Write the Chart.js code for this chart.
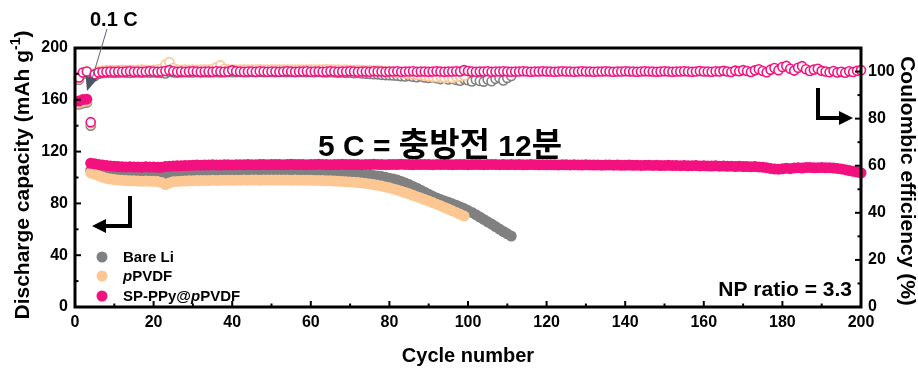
<!DOCTYPE html>
<html>
<head>
<meta charset="utf-8">
<script src="https://cdn.jsdelivr.net/npm/chart.js@4.4.1/dist/chart.umd.min.js"></script>
<style>
  html, body { margin: 0; padding: 0; background: #fff; }
  #wrap { width: 918px; height: 369px; }
</style>
</head>
<body>
<div id="wrap"><canvas id="cycleChart" width="918" height="369"></canvas></div>
<script>
// axis ticks
const xTicks = [0, 20, 40, 60, 80, 100, 120, 140, 160, 180, 200];
const capTicks = [0, 40, 80, 120, 160, 200];
const ceTicks = [0, 20, 40, 60, 80, 100];

// discharge capacity (mAh g-1), one value per cycle starting at cycle 1
const capSP = [
  159.0,160.2,160.5,111.0,110.6,110.1,109.6,109.2,108.9,108.6,
  108.4,108.3,108.2,108.3,108.1,108.2,108.0,108.3,108.1,108.2,
  108.0,107.9,108.4,108.7,108.8,109.0,109.1,109.2,109.3,109.4,
  109.6,109.5,109.7,109.6,109.8,109.7,109.6,109.8,109.9,109.7,
  109.8,109.9,109.8,110.0,109.9,109.8,110.0,110.1,109.9,110.0,
  110.1,110.0,109.9,110.1,110.2,110.0,110.1,110.0,109.9,110.1,
  110.0,110.2,110.1,110.0,109.9,110.1,110.0,110.2,110.1,110.0,
  110.1,110.0,109.9,110.1,110.0,110.2,110.1,110.0,109.9,110.0,
  110.1,110.0,110.2,110.1,110.0,109.9,110.1,110.0,110.1,110.0,
  109.9,110.1,110.0,110.1,110.0,109.9,110.0,110.1,110.0,109.9,
  110.0,110.1,110.0,109.9,110.0,110.1,110.0,109.9,110.0,109.9,
  110.0,109.9,110.0,109.8,109.9,110.0,109.9,109.8,109.9,109.8,
  109.9,109.8,109.7,109.9,109.8,109.7,109.8,109.7,109.6,109.8,
  109.7,109.6,109.7,109.5,109.6,109.7,109.5,109.6,109.4,109.5,
  109.6,109.4,109.5,109.3,109.4,109.5,109.3,109.4,109.2,109.3,
  109.4,109.2,109.3,109.1,109.2,109.0,109.1,109.2,108.9,109.0,
  108.9,108.8,109.0,108.7,108.8,108.6,108.7,108.5,108.6,108.4,
  108.5,108.3,108.4,108.2,108.0,107.6,107.0,106.6,106.4,106.7,
  107.2,106.8,107.4,107.6,107.3,107.7,107.8,107.5,107.6,107.7,
  107.5,107.6,107.3,107.0,106.6,106.0,105.4,104.8,104.2,103.6
];
const capBare = [
  156.5,157.5,158.0,105.5,105.0,104.4,103.8,103.3,103.0,102.8,
  102.6,102.5,102.4,102.3,102.2,102.1,102.0,102.2,102.1,102.0,
  101.8,101.6,101.0,101.9,102.2,102.3,102.4,102.4,102.5,102.5,
  102.6,102.5,102.7,102.6,102.6,102.7,102.6,102.7,102.8,102.7,
  102.7,102.8,102.7,102.8,102.9,102.8,102.8,102.9,102.8,102.9,
  102.9,103.0,102.9,102.9,103.0,102.9,103.0,102.9,102.9,103.0,
  102.9,103.0,102.9,102.8,102.9,102.8,102.8,102.7,102.7,102.6,
  102.5,102.4,102.3,102.1,101.9,101.6,101.2,100.7,100.1,99.4,
  98.8,98.0,97.0,95.8,94.5,93.1,91.7,90.2,88.6,87.0,
  85.5,84.2,83.0,81.9,80.8,79.7,78.5,77.3,76.0,74.5,
  73.0,71.3,69.5,67.6,65.8,64.0,62.1,60.2,58.3,56.5,54.8
];
const capPVDF = [
  157.5,158.5,159.0,103.5,102.6,101.4,100.3,99.4,98.8,98.4,
  98.0,97.8,97.6,97.5,97.4,97.3,97.2,97.3,97.2,97.1,
  96.9,96.2,94.6,95.8,96.8,97.0,97.2,97.3,97.4,97.5,
  97.6,97.6,97.7,97.6,97.8,97.7,97.8,97.8,97.9,97.8,
  97.9,97.9,98.0,97.9,98.0,98.0,97.9,98.0,98.1,98.0,
  98.0,98.1,98.0,98.0,97.9,98.0,97.9,97.9,97.8,97.8,
  97.7,97.7,97.6,97.5,97.4,97.3,97.2,97.0,96.8,96.6,
  96.4,96.1,95.8,95.4,95.0,94.5,94.0,93.4,92.7,92.0,
  91.2,90.3,89.4,88.4,87.4,86.3,85.2,84.1,83.0,81.8,
  80.6,79.4,78.2,76.9,75.6,74.3,73.0,71.6,70.2
];

// coulombic efficiency (%)
const ceSP = [
  97.5,99.6,100.0,78.5,98.8,99.6,99.8,99.9,100.0,99.9,
  100.0,99.9,100.0,100.1,99.9,100.0,99.9,100.0,100.1,100.0,
  99.9,100.0,100.2,100.6,100.1,99.9,100.0,99.9,100.0,100.1,
  100.0,99.9,100.0,100.0,99.9,100.1,100.0,99.9,100.0,100.5,
  100.1,100.0,99.9,100.0,100.0,99.9,100.1,100.0,99.9,100.0,
  100.0,99.9,100.0,100.1,100.0,99.9,100.0,100.0,100.1,99.9,
  100.0,100.0,99.9,100.0,100.1,100.0,99.9,100.0,100.0,100.1,
  100.0,99.9,100.0,100.0,99.9,100.1,100.0,100.0,99.9,100.0,
  100.0,100.1,99.9,100.0,100.0,100.1,99.9,100.0,100.0,99.9,
  100.0,100.1,100.0,99.9,100.0,100.0,100.1,100.0,100.6,100.2,
  100.0,99.9,100.0,100.0,100.1,99.9,100.0,100.0,100.1,100.0,
  99.9,100.0,100.0,100.1,100.0,99.9,100.0,100.0,100.1,100.0,
  100.0,99.9,100.0,100.1,100.0,100.0,99.9,100.0,100.1,100.0,
  100.0,99.9,100.0,100.0,100.1,100.0,99.9,100.0,100.0,100.1,
  100.0,100.0,99.9,100.0,100.1,100.0,100.0,99.9,100.0,100.1,
  100.0,99.9,100.0,100.0,100.1,100.0,99.9,100.0,100.2,100.0,
  100.0,99.9,100.1,100.0,100.3,100.0,99.8,100.4,100.1,100.6,
  100.2,99.8,100.5,101.0,100.2,99.7,100.8,101.5,100.6,101.9,
  102.4,101.2,100.4,101.6,102.3,101.0,100.2,100.8,101.2,100.3,
  100.0,99.7,100.2,99.6,99.9,99.5,100.1,99.8,100.3,100.6
];
const ceBare = [
  96.5,99.0,99.4,77.0,98.0,99.0,99.3,99.4,99.5,99.4,
  99.5,99.6,99.5,99.4,99.5,99.6,99.5,99.6,99.5,99.6,
  99.5,99.4,99.2,99.8,99.6,99.5,99.6,99.7,99.6,99.6,
  99.7,99.6,99.7,99.6,99.7,99.7,99.6,99.7,99.8,99.7,
  99.7,99.8,99.7,99.7,99.8,99.7,99.8,99.7,99.8,99.8,
  99.7,99.8,99.8,99.7,99.8,99.7,99.8,99.8,99.7,99.8,
  99.7,99.8,99.7,99.6,99.7,99.6,99.5,99.6,99.4,99.5,
  99.3,99.4,99.2,99.1,99.0,98.9,98.8,98.6,98.5,98.4,
  98.3,98.2,98.0,97.9,98.1,97.8,97.6,97.9,97.5,97.3,
  97.6,97.2,96.8,97.4,96.6,97.0,96.4,96.1,96.8,96.3,
  95.8,96.5,96.0,95.7,96.6,95.9,96.9,97.4,96.2,97.3,98.1
];
const cePVDF = [
  97.0,99.5,100.1,78.0,99.2,100.2,100.4,100.5,100.6,100.5,
  100.6,100.7,100.6,100.7,100.6,100.7,100.8,100.7,100.6,100.7,
  100.8,101.2,103.0,104.0,101.5,100.8,100.7,100.8,100.7,100.8,
  100.7,100.8,100.9,100.8,101.0,101.8,102.6,101.2,100.8,100.9,
  100.8,100.9,100.8,100.9,100.8,100.9,101.0,100.9,100.8,100.9,
  100.9,100.8,100.9,100.8,100.9,100.8,100.9,100.8,100.9,100.8,
  100.9,100.8,100.9,101.0,100.8,100.9,100.8,100.7,100.8,100.7,
  100.6,100.7,100.6,100.5,100.6,100.4,100.5,100.3,100.2,100.0,
  99.8,99.6,99.4,99.2,99.0,98.8,98.6,98.4,98.2,98.0,
  97.8,97.6,97.9,97.4,97.7,97.3,97.8,98.0,98.3
];

const PINK = '#F2117F';
const GRAY = '#808080';
const PEACH = '#FDC793';
const FONT = "'Liberation Sans', Arial, sans-serif";

function pts(arr) {
  return arr.map((v, i) => ({ x: i + 1, y: v }));
}
function capSet(arr, color) {
  return { data: pts(arr), yAxisID: 'y', pointRadius: 5.5, pointBorderWidth: 0,
    pointBackgroundColor: color, pointBorderColor: color, clip: false };
}
function ceSet(arr, color) {
  return { data: pts(arr), yAxisID: 'y2', pointRadius: 4.5, pointBorderWidth: 1.6,
    pointBackgroundColor: '#fff', pointBorderColor: color, clip: false };
}

function arrowHead(ctx, tipX, tipY, dx, dy, len, half) {
  // dx,dy: unit direction of the arrow
  const bx = tipX - dx * len, by = tipY - dy * len;
  ctx.beginPath();
  ctx.moveTo(tipX, tipY);
  ctx.lineTo(bx - dy * half, by + dx * half);
  ctx.lineTo(bx + dy * half, by - dx * half);
  ctx.closePath();
  ctx.fill();
}

const decorPlugin = {
  id: 'decor',
  afterDraw(chart) {
    const ctx = chart.ctx, a = chart.chartArea;
    const sx = chart.scales.x, sy = chart.scales.y, sy2 = chart.scales.y2;
    ctx.save();

    // frame
    ctx.strokeStyle = '#000';
    ctx.lineWidth = 3;
    ctx.strokeRect(a.left, a.top, a.right - a.left, a.bottom - a.top);

    // inward tick marks, major and minor
    ctx.lineWidth = 2;
    const line = (x1, y1, x2, y2) => { ctx.beginPath(); ctx.moveTo(x1, y1); ctx.lineTo(x2, y2); ctx.stroke(); };
    const withMinor = t => {
      const out = [];
      t.forEach((v, i) => {
        out.push([v, 6]);
        if (i < t.length - 1) out.push([(v + t[i + 1]) / 2, 3.5]);
      });
      return out;
    };
    withMinor(xTicks).forEach(([v, l]) => { const p = sx.getPixelForValue(v); line(p, a.bottom, p, a.bottom - l); });
    withMinor(capTicks).forEach(([v, l]) => { const p = sy.getPixelForValue(v); line(a.left, p, a.left + l, p); });
    withMinor(ceTicks).forEach(([v, l]) => { const p = sy2.getPixelForValue(v); line(a.right, p, a.right - l, p); });

    // axis titles
    ctx.fillStyle = '#000';
    ctx.textBaseline = 'middle';
    ctx.textAlign = 'center';
    ctx.font = `bold 20px ${FONT}`;
    ctx.fillText('Cycle number', 468, 356);

    // left title with superscript
    ctx.save();
    ctx.translate(23, 175);
    ctx.rotate(-Math.PI / 2);
    const main = 'Discharge capacity (mAh g';
    ctx.font = `bold 21px ${FONT}`;
    const w1 = ctx.measureText(main).width;
    ctx.font = `bold 14px ${FONT}`;
    const w2 = ctx.measureText('-1').width;
    ctx.font = `bold 21px ${FONT}`;
    const w3 = ctx.measureText(')').width;
    let x0 = -(w1 + w2 + w3) / 2;
    ctx.textAlign = 'left';
    ctx.fillText(main, x0, 0);
    ctx.font = `bold 14px ${FONT}`;
    ctx.fillText('-1', x0 + w1, -7);
    ctx.font = `bold 21px ${FONT}`;
    ctx.fillText(')', x0 + w1 + w2, 0);
    ctx.restore();

    ctx.save();
    ctx.translate(907, 181);
    ctx.rotate(Math.PI / 2);
    ctx.textAlign = 'center';
    ctx.font = `bold 21px ${FONT}`;
    ctx.fillText('Coulombic efficiency (%)', 0, 0);
    ctx.restore();

    // legend
    const legend = [
      [GRAY, [['Bare Li', false]]],
      [PEACH, [['p', true], ['PVDF', false]]],
      [PINK, [['SP-PPy@', false], ['p', true], ['PVDF', false]]]
    ];
    const legY = [257, 276, 296];
    ctx.textAlign = 'left';
    legend.forEach(([c, parts], i) => {
      ctx.fillStyle = c;
      ctx.beginPath();
      ctx.arc(102, legY[i], 5.5, 0, Math.PI * 2);
      ctx.fill();
      ctx.fillStyle = '#000';
      let x = 123;
      parts.forEach(([t, it]) => {
        ctx.font = `${it ? 'italic ' : ''}bold 15px ${FONT}`;
        ctx.fillText(t, x, legY[i] + 1);
        x += ctx.measureText(t).width;
      });
    });

    // annotations
    ctx.textBaseline = 'alphabetic';
    ctx.font = `bold 20px ${FONT}`;
    ctx.fillText('0.1 C', 90, 26);
    ctx.font = `bold 21px ${FONT}`;
    ctx.textAlign = 'right';
    ctx.fillText('NP ratio = 3.3', 852, 296);

    ctx.textAlign = 'left';
    const segs = [
      ['5 C = ', `bold 30px ${FONT}`],
      ['충방전', "bold 33px 'Noto Sans CJK KR'"],
      [' 12', `bold 30px ${FONT}`],
      ['분', "bold 33px 'Noto Sans CJK KR'"]
    ];
    let tx = 318;
    segs.forEach(([t, f]) => {
      ctx.font = f;
      ctx.fillText(t, tx, 156);
      tx += ctx.measureText(t).width;
    });

    // thin arrow for 0.1 C
    ctx.strokeStyle = '#5B6573';
    ctx.fillStyle = '#4A5566';
    ctx.lineWidth = 1;
    line(107, 29, 92, 79);
    let dx = 87 - 107, dy = 91 - 29, d = Math.hypot(dx, dy);
    arrowHead(ctx, 87, 91, dx / d, dy / d, 14, 6);

    // bold axis arrows
    ctx.strokeStyle = '#000';
    ctx.fillStyle = '#000';
    ctx.lineWidth = 4;
    ctx.beginPath();
    ctx.moveTo(130, 196); ctx.lineTo(130, 226); ctx.lineTo(104, 226);
    ctx.stroke();
    arrowHead(ctx, 92, 226, -1, 0, 14, 7);
    ctx.beginPath();
    ctx.moveTo(818, 88); ctx.lineTo(818, 118); ctx.lineTo(841, 118);
    ctx.stroke();
    arrowHead(ctx, 853, 118, 1, 0, 14, 7);

    ctx.restore();
  }
};

const tickFont = { family: FONT, size: 16, weight: 'bold' };

new Chart(document.getElementById('cycleChart').getContext('2d'), {
  type: 'scatter',
  data: {
    datasets: [
      ceSet(ceSP, PINK),
      capSet(capSP, PINK),
      ceSet(cePVDF, PEACH),
      capSet(capPVDF, PEACH),
      ceSet(ceBare, GRAY),
      capSet(capBare, GRAY)
    ]
  },
  options: {
    responsive: false,
    animation: false,
    layout: { padding: { top: 48, left: 0, right: 0, bottom: 0 } },
    plugins: { legend: { display: false }, tooltip: { enabled: false } },
    scales: {
      x: {
        type: 'linear', min: 0, max: 200,
        afterBuildTicks: s => { s.ticks = xTicks.map(v => ({ value: v })); },
        afterFit: s => { s.height = 62; },
        grid: { display: false, drawTicks: false },
        border: { display: false },
        ticks: { font: tickFont, color: '#000', padding: 6, maxRotation: 0, autoSkip: false }
      },
      y: {
        position: 'left', min: 0, max: 200,
        afterBuildTicks: s => { s.ticks = capTicks.map(v => ({ value: v })); },
        afterFit: s => { s.width = 75; },
        grid: { display: false, drawTicks: false },
        border: { display: false },
        ticks: { font: tickFont, color: '#000', padding: 7 }
      },
      y2: {
        position: 'right', min: 0, max: 110,
        afterBuildTicks: s => { s.ticks = ceTicks.map(v => ({ value: v })); },
        afterFit: s => { s.width = 57; },
        grid: { display: false, drawTicks: false },
        border: { display: false },
        ticks: { font: tickFont, color: '#000', padding: 7 }
      }
    }
  },
  plugins: [decorPlugin]
});
</script>
</body>
</html>
